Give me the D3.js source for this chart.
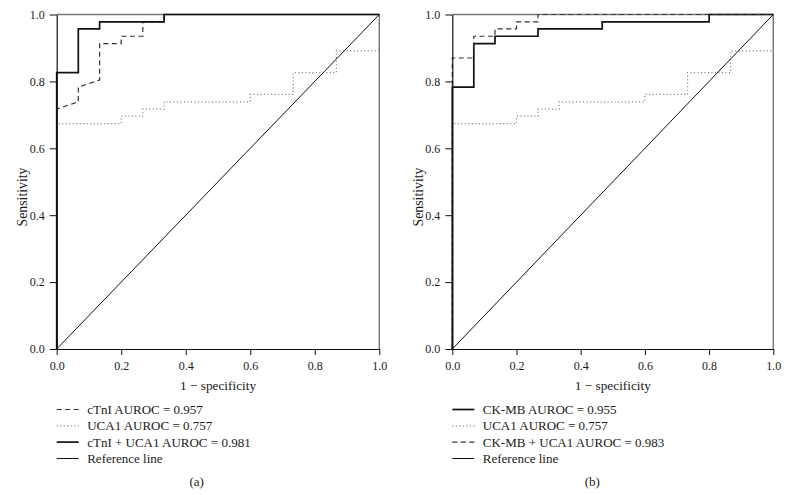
<!DOCTYPE html>
<html>
<head>
<meta charset="utf-8">
<script src="https://cdn.jsdelivr.net/npm/d3@7"></script>
<style>
  body { margin: 0; background: #fff; }
  text { font-family: "Liberation Serif", "DejaVu Serif", serif; fill: #1a1a1a; }
</style>
</head>
<body>
<div id="chart"></div>
<script>
// Ticks of both axes
var tickValues = [0, 0.2, 0.4, 0.6, 0.8, 1.0];

// Panel (a): cTnI
var cTnI_fpr = [0, 0, 0.067, 0.067, 0.133, 0.133, 0.2, 0.2, 0.267, 0.267, 0.333, 0.333, 1];
var cTnI_tpr = [0, 0.717, 0.739, 0.783, 0.804, 0.913, 0.913, 0.935, 0.935, 0.978, 0.978, 1, 1];

// UCA1 (same in both panels)
var uca1_fpr = [0, 0, 0.2, 0.2, 0.267, 0.267, 0.333, 0.333, 0.6, 0.6, 0.733, 0.733, 0.867, 0.867, 1, 1];
var uca1_tpr = [0, 0.674, 0.674, 0.696, 0.696, 0.717, 0.717, 0.739, 0.739, 0.761, 0.761, 0.826, 0.826, 0.891, 0.891, 1];

// cTnI + UCA1
var cTnIUca_fpr = [0, 0, 0.067, 0.067, 0.133, 0.133, 0.333, 0.333, 1];
var cTnIUca_tpr = [0, 0.826, 0.826, 0.957, 0.957, 0.978, 0.978, 1, 1];

// Panel (b): CK-MB
var ckmb_fpr = [0, 0, 0.067, 0.067, 0.133, 0.133, 0.267, 0.267, 0.467, 0.467, 0.8, 0.8, 1];
var ckmb_tpr = [0, 0.783, 0.783, 0.913, 0.913, 0.935, 0.935, 0.957, 0.957, 0.978, 0.978, 1, 1];

// CK-MB + UCA1
var ckmbUca_fpr = [0, 0, 0.067, 0.067, 0.133, 0.133, 0.2, 0.2, 0.267, 0.267, 1];
var ckmbUca_tpr = [0, 0.870, 0.870, 0.935, 0.935, 0.957, 0.957, 0.978, 0.978, 1, 1];

// Reference line
var ref_fpr = [0, 1];
var ref_tpr = [0, 1];

// Legends
var legendA = ["cTnI AUROC = 0.957", "UCA1 AUROC = 0.757", "cTnI + UCA1 AUROC = 0.981", "Reference line"];
var legendB = ["CK-MB AUROC = 0.955", "UCA1 AUROC = 0.757", "CK-MB + UCA1 AUROC = 0.983", "Reference line"];

// Estilos das linhas
var styles = {
  solid:  {stroke: "#111", width: 1.7, dash: null},
  dashed: {stroke: "#333", width: 1.2, dash: "5,3.5"},
  dotted: {stroke: "#777", width: 1.2, dash: "1,2.5"},
  ref:    {stroke: "#111", width: 1, dash: null}
};

var svg = d3.select("#chart")
  .append("svg")
  .attr("width", 789)
  .attr("height", 495);

function zip(xs, ys) {
  return xs.map(function(x, i) { return [x, ys[i]]; });
}

function panel(left, right, series, labels, tag) {
  var top = 14.5, bottom = 349;

  var x = d3.scaleLinear().domain([0, 1]).range([left, right]);
  var y = d3.scaleLinear().domain([0, 1]).range([bottom, top]);

  var g = svg.append("g");

  // Moldura (topo e direita)
  g.append("path")
    .attr("d", "M" + x(0) + "," + y(1) + "H" + x(1) + "V" + y(0))
    .attr("fill", "none")
    .attr("stroke", "#777")
    .attr("stroke-width", 1.4);

  var line = d3.line()
    .x(function(d) { return x(d[0]); })
    .y(function(d) { return y(d[1]); });

  // Curvas
  series.forEach(function(s) {
    var st = styles[s.style];
    g.append("path")
      .datum(zip(s.fpr, s.tpr))
      .attr("d", line)
      .attr("fill", "none")
      .attr("stroke", st.stroke)
      .attr("stroke-width", st.width)
      .attr("stroke-dasharray", st.dash);
  });

  // Eixos
  var xAxis = d3.axisBottom(x).tickValues(tickValues).tickFormat(d3.format(".1f"))
    .tickSize(6).tickSizeOuter(0).tickPadding(6);
  var yAxis = d3.axisLeft(y).tickValues(tickValues).tickFormat(d3.format(".1f"))
    .tickSize(7).tickSizeOuter(0).tickPadding(5);

  var gx = g.append("g")
    .attr("transform", "translate(0," + bottom + ")")
    .call(xAxis);
  var gy = g.append("g")
    .attr("transform", "translate(" + left + ",0)")
    .call(yAxis);

  [gx, gy].forEach(function(a) {
    a.attr("font-family", "Liberation Serif, serif");
    a.select(".domain").attr("stroke", "#111").attr("stroke-width", 1.2);
    a.selectAll(".tick line").attr("stroke", "#111");
    a.selectAll(".tick text")
      .attr("font-size", "12px")
      .attr("fill", "#1a1a1a");
  });

  // Titulos dos eixos
  g.append("text")
    .attr("x", (left + right) / 2)
    .attr("y", 390)
    .attr("text-anchor", "middle")
    .attr("font-size", "13.3px")
    .text("1 \u2212 specificity");

  g.append("text")
    .attr("transform", "translate(" + (left - 29.5) + ",197) rotate(-90)")
    .attr("text-anchor", "middle")
    .attr("font-size", "13.8px")
    .text("Sensitivity");

  // Legenda
  var rowY = [414, 430.4, 446.6, 463];
  series.forEach(function(s, i) {
    var st = styles[s.style];
    var ly = rowY[i];
    g.append("line")
      .attr("x1", left)
      .attr("x2", left + 22)
      .attr("y1", ly - 4.5)
      .attr("y2", ly - 4.5)
      .attr("stroke", st.stroke)
      .attr("stroke-width", st.width)
      .attr("stroke-dasharray", st.dash);
    g.append("text")
      .attr("x", left + 30.5)
      .attr("y", ly)
      .attr("font-size", "13px")
      .text(labels[i]);
  });

  // Rotulo do painel
  g.append("text")
    .attr("x", left + 140)
    .attr("y", 486)
    .attr("text-anchor", "middle")
    .attr("font-size", "13px")
    .text(tag);
}

panel(56.7, 379.3, [
  {fpr: cTnI_fpr, tpr: cTnI_tpr, style: "dashed"},
  {fpr: uca1_fpr, tpr: uca1_tpr, style: "dotted"},
  {fpr: cTnIUca_fpr, tpr: cTnIUca_tpr, style: "solid"},
  {fpr: ref_fpr, tpr: ref_tpr, style: "ref"}
], legendA, "(a)");

panel(452.3, 773.3, [
  {fpr: ckmb_fpr, tpr: ckmb_tpr, style: "solid"},
  {fpr: uca1_fpr, tpr: uca1_tpr, style: "dotted"},
  {fpr: ckmbUca_fpr, tpr: ckmbUca_tpr, style: "dashed"},
  {fpr: ref_fpr, tpr: ref_tpr, style: "ref"}
], legendB, "(b)");
</script>
</body>
</html>
